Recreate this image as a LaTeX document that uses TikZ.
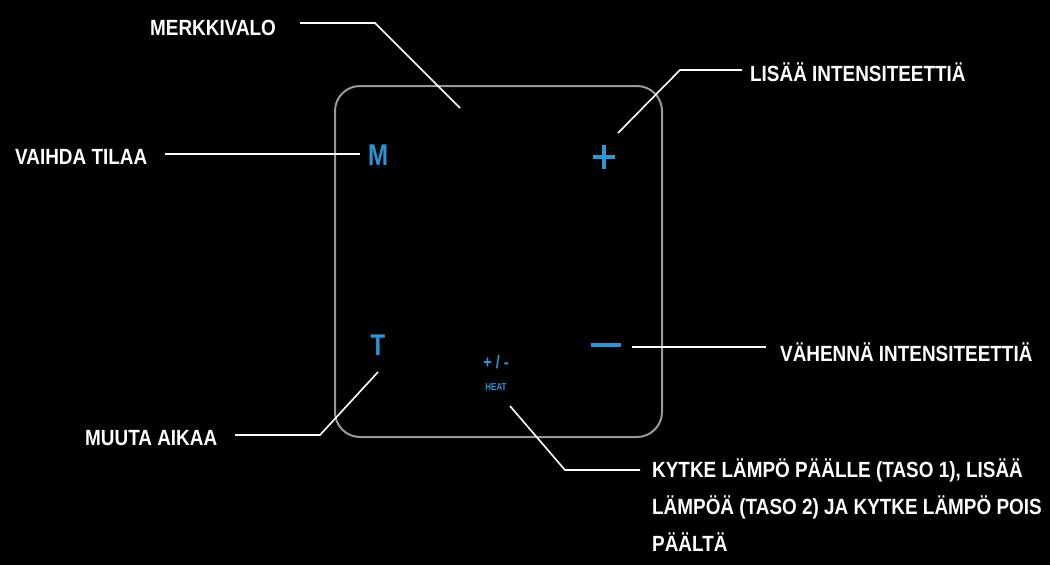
\documentclass[tikz,border=0pt]{standalone}
\usepackage{fontspec}
\setmainfont{Liberation Sans}
\begin{document}
\begin{tikzpicture}[x=1pt,y=-1pt,
  lbl/.style={font=\fontsize{22}{37}\selectfont\bfseries, text=white, inner sep=0pt, xscale=0.86},
  key/.style={font=\fontsize{30}{30}\selectfont\bfseries, text=keyblue, inner sep=0pt, xscale=0.8},
  kl/.style={draw=keyblue, line width=4pt},
  ln/.style={draw=white, line width=1.6pt}]
\definecolor{keyblue}{RGB}{40,150,215}
\fill[black] (0,0) rectangle (1050,565);
\useasboundingbox (0,0) rectangle (1050,565);
\draw[gray!80, line width=2pt, rounded corners=25pt] (335,86) rectangle (662,437);
\node[key] (m) at (378,155) {M};
\coordinate (plus) at (604,157);
\draw[kl] ([xshift=-11pt]plus) -- ([xshift=11pt]plus) ([yshift=-12pt]plus) -- ([yshift=12pt]plus);
\node[key] (t) at (378,345) {T};
\coordinate (minus) at (606,345);
\draw[kl] ([xshift=-15pt]minus) -- ([xshift=15pt]minus);
\node[key, font=\fontsize{18}{18}\selectfont\bfseries] (pm) at (496,362) {+ / -};
\node[key, font=\fontsize{10}{10}\selectfont\bfseries] (heat) at (496,387) {HEAT};
\coordinate (led) at (460,108);
\node[lbl, anchor=west] (merk) at (150,28) {MERKKIVALO};
\node[lbl, anchor=west] (lisaa) at (750,72) {LISÄÄ INTENSITEETTIÄ};
\node[lbl, anchor=west] (vaihda) at (15,157) {VAIHDA TILAA};
\node[lbl, anchor=west] (vah) at (780,352) {VÄHENNÄ INTENSITEETTIÄ};
\node[lbl, anchor=west] (muuta) at (85,438) {MUUTA AIKAA};
\node[lbl, anchor=north west, align=left] (kyt) at (652,459) {KYTKE LÄMPÖ PÄÄLLE (TASO 1), LISÄÄ\\LÄMPÖÄ (TASO 2) JA KYTKE LÄMPÖ POIS\\PÄÄLTÄ};
\draw[ln] (300,23) -- (375,23) -- (led);
\draw[ln] (742,70) -- (680,70) -- (618,133);
\draw[ln] (165,154) -- (360,154);
\draw[ln] (632,347) -- (766,347);
\draw[ln] (235,435) -- (320,435) -- (378,372);
\draw[ln] (510,406) -- (565,470) -- (640,470);
\end{tikzpicture}
\end{document}
